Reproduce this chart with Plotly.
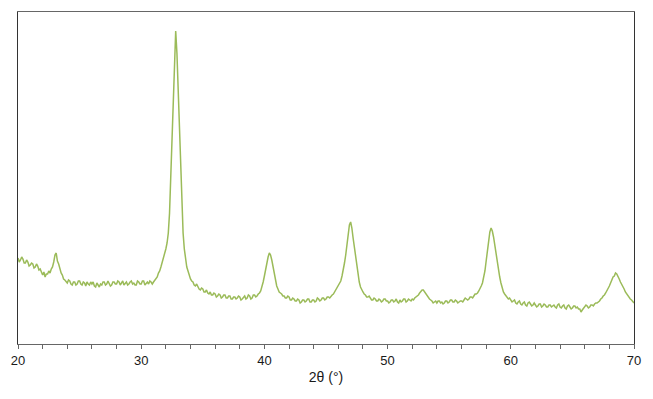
import numpy as np
import plotly.graph_objects as go

# 2θ grid (degrees), 0.1° step from 20 to 70
two_theta = np.round(np.arange(20.0, 70.0001, 0.1), 1)

# Intensity (arbitrary units)
intensity = [
    85, 81, 83, 86, 84, 80, 80, 83, 81, 77,      # 20.0
    78, 80, 79, 75, 76, 79, 77, 73, 74, 71,      # 21.0
    68, 71, 66, 69, 69, 72, 70, 74, 76, 81,      # 22.0
    88, 90, 82, 79, 74, 70, 68, 64, 63, 61,      # 23.0
    60, 63, 62, 59, 58, 61, 61, 58, 59, 62,      # 24.0
    62, 59, 58, 61, 60, 57, 61, 59, 58, 61,      # 25.0
    59, 61, 57, 56, 60, 58, 56, 59, 58, 61,      # 26.0
    61, 58, 59, 62, 60, 57, 58, 61, 61, 59,      # 27.0
    59, 62, 61, 58, 60, 62, 58, 60, 61, 58,      # 28.0
    59, 61, 62, 59, 60, 58, 58, 62, 61, 59,      # 29.0
    59, 62, 62, 58, 60, 61, 59, 62, 61, 59,      # 30.0
    61, 63, 64, 66, 70, 72, 76, 80, 84, 88,      # 31.0
    94, 100, 110, 130, 165, 205, 255, 290, 312, 290,  # 32.0
    250, 210, 173, 140, 110, 94, 82, 76, 72, 67,  # 33.0
    64, 62, 61, 58, 57, 59, 56, 54, 53, 55,      # 34.0
    54, 51, 51, 53, 50, 49, 51, 48, 48, 50,      # 35.0
    49, 46, 47, 49, 48, 45, 46, 48, 48, 45,      # 36.0
    45, 47, 47, 44, 44, 46, 46, 44, 45, 47,      # 37.0
    46, 43, 44, 46, 47, 44, 45, 48, 47, 44,      # 38.0
    45, 48, 48, 46, 47, 49, 50, 52, 56, 61,      # 39.0
    67, 74, 80, 86, 90, 88, 83, 76, 68, 62,      # 40.0
    57, 54, 51, 50, 49, 47, 47, 45, 45, 47,      # 41.0
    46, 43, 43, 45, 44, 42, 42, 44, 43, 40,      # 42.0
    41, 43, 43, 41, 42, 44, 44, 41, 41, 43,      # 43.0
    43, 41, 42, 45, 44, 42, 43, 45, 45, 43,      # 44.0
    44, 46, 46, 45, 47, 48, 49, 51, 53, 55,      # 45.0
    57, 59, 62, 67, 72, 80, 88, 100, 110, 118,   # 46.0
    121, 115, 105, 96, 88, 77, 67, 61, 56, 53,   # 47.0
    51, 49, 48, 46, 46, 47, 45, 43, 43, 45,      # 48.0
    44, 42, 42, 44, 43, 41, 42, 44, 44, 42,      # 49.0
    42, 40, 41, 43, 43, 41, 42, 44, 41, 40,      # 50.0
    43, 41, 42, 44, 44, 41, 42, 44, 43, 42,      # 51.0
    44, 43, 45, 46, 47, 48, 50, 52, 53, 53,      # 52.0
    51, 50, 48, 46, 44, 43, 42, 40, 41, 42,      # 53.0
    40, 42, 42, 40, 41, 39, 40, 42, 42, 40,      # 54.0
    41, 43, 43, 41, 41, 43, 42, 40, 41, 42,      # 55.0
    42, 41, 43, 45, 44, 43, 44, 46, 46, 45,      # 56.0
    47, 49, 49, 50, 52, 54, 57, 60, 65, 72,      # 57.0
    82, 93, 105, 111, 115, 112, 106, 97, 88, 80,  # 58.0
    72, 66, 60, 55, 51, 49, 47, 46, 44, 45,      # 59.0
    43, 41, 42, 43, 40, 39, 41, 42, 39, 38,      # 60.0
    40, 41, 38, 37, 40, 41, 39, 37, 38, 40,      # 61.0
    38, 36, 37, 39, 39, 36, 37, 39, 38, 36,      # 62.0
    36, 38, 38, 36, 37, 38, 36, 35, 38, 39,      # 63.0
    36, 35, 37, 38, 35, 34, 37, 38, 36, 34,      # 64.0
    35, 37, 37, 35, 36, 34, 34, 31, 33, 35,      # 65.0
    36, 38, 37, 35, 36, 38, 38, 37, 39, 40,      # 66.0
    40, 41, 42, 44, 45, 47, 48, 50, 52, 55,      # 67.0
    57, 60, 63, 66, 67, 70, 69, 67, 64, 61,      # 68.0
    59, 56, 54, 51, 49, 47, 46, 44, 43, 41,      # 69.0
    40,                                          # 70.0
]

x_tick_vals = [20, 30, 40, 50, 60, 70]
x_tick_text = ["20", "30", "40", "50", "60", "70"]

fig = go.Figure()
fig.add_trace(go.Scatter(
    x=two_theta, y=intensity, mode="lines",
    line=dict(color="#9BBB59", width=1.5),
    showlegend=False, hoverinfo="skip",
))

fig.update_layout(
    width=653, height=399,
    margin=dict(l=18, r=19, t=12, b=55),
    paper_bgcolor="white", plot_bgcolor="white",
    font=dict(family="Liberation Sans, Arial, sans-serif", size=13, color="#1a1a1a"),
    xaxis=dict(
        range=[20, 70],
        tickvals=x_tick_vals, ticktext=x_tick_text,
        ticks="outside", ticklen=4, tickcolor="#666666", tickwidth=1,
        minor=dict(ticks="outside", dtick=2, ticklen=4, tickcolor="#666666", tickwidth=1, showgrid=False),
        showline=True, linecolor="#666666", linewidth=1.2, mirror=True,
        showgrid=False, zeroline=False,
        title=dict(text="2θ (°)", font=dict(size=14), standoff=5),
        tickfont=dict(size=13),
        automargin=False,
    ),
    yaxis=dict(
        range=[-1, 331],
        showticklabels=False, ticks="",
        showline=True, linecolor="#333333", linewidth=1.2, mirror=True,
        showgrid=False, zeroline=False,
        automargin=False,
    ),
)

fig.write_html(
    "out.html",
    config={"displayModeBar": False, "staticPlot": True},
    post_script="document.body.style.margin='0';document.body.style.overflow='hidden';",
)
